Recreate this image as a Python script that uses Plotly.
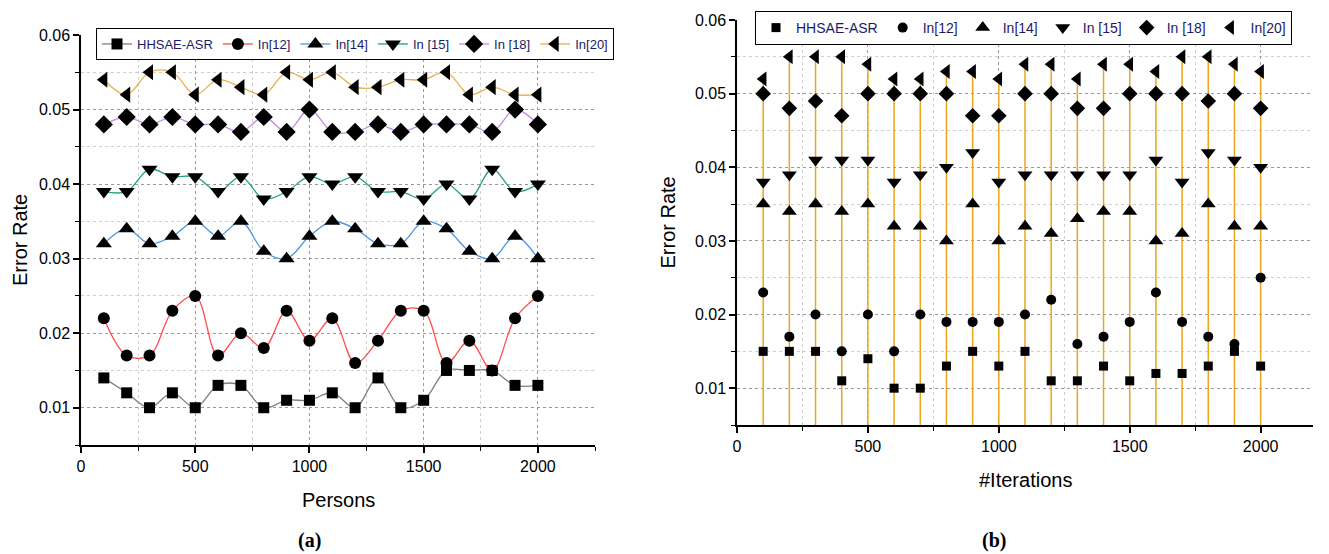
import plotly.graph_objects as go

# ---------------- data ----------------
x_vals = [100, 200, 300, 400, 500, 600, 700, 800, 900, 1000,
          1100, 1200, 1300, 1400, 1500, 1600, 1700, 1800, 1900, 2000]

series_names = ["HHSAE-ASR", "In[12]", "In[14]", "In [15]", "In [18]", "In[20]"]

# (a) Persons
a_hhsae = [0.014, 0.012, 0.010, 0.012, 0.010, 0.013, 0.013, 0.010, 0.011, 0.011,
           0.012, 0.010, 0.014, 0.010, 0.011, 0.015, 0.015, 0.015, 0.013, 0.013]
a_in12 = [0.022, 0.017, 0.017, 0.023, 0.025, 0.017, 0.020, 0.018, 0.023, 0.019,
          0.022, 0.016, 0.019, 0.023, 0.023, 0.016, 0.019, 0.015, 0.022, 0.025]
a_in14 = [0.032, 0.034, 0.032, 0.033, 0.035, 0.033, 0.035, 0.031, 0.030, 0.033,
          0.035, 0.034, 0.032, 0.032, 0.035, 0.034, 0.031, 0.030, 0.033, 0.030]
a_in15 = [0.039, 0.039, 0.042, 0.041, 0.041, 0.039, 0.041, 0.038, 0.039, 0.041,
          0.040, 0.041, 0.039, 0.039, 0.038, 0.040, 0.038, 0.042, 0.039, 0.040]
a_in18 = [0.048, 0.049, 0.048, 0.049, 0.048, 0.048, 0.047, 0.049, 0.047, 0.050,
          0.047, 0.047, 0.048, 0.047, 0.048, 0.048, 0.048, 0.047, 0.050, 0.048]
a_in20 = [0.054, 0.052, 0.055, 0.055, 0.052, 0.054, 0.053, 0.052, 0.055, 0.054,
          0.055, 0.053, 0.053, 0.054, 0.054, 0.055, 0.052, 0.053, 0.052, 0.052]

# (b) #Iterations
b_hhsae = [0.015, 0.015, 0.015, 0.011, 0.014, 0.010, 0.010, 0.013, 0.015, 0.013,
           0.015, 0.011, 0.011, 0.013, 0.011, 0.012, 0.012, 0.013, 0.015, 0.013]
b_in12 = [0.023, 0.017, 0.020, 0.015, 0.020, 0.015, 0.020, 0.019, 0.019, 0.019,
          0.020, 0.022, 0.016, 0.017, 0.019, 0.023, 0.019, 0.017, 0.016, 0.025]
b_in14 = [0.035, 0.034, 0.035, 0.034, 0.035, 0.032, 0.032, 0.030, 0.035, 0.030,
          0.032, 0.031, 0.033, 0.034, 0.034, 0.030, 0.031, 0.035, 0.032, 0.032]
b_in15 = [0.038, 0.039, 0.041, 0.041, 0.041, 0.038, 0.039, 0.040, 0.042, 0.038,
          0.039, 0.039, 0.039, 0.039, 0.039, 0.041, 0.038, 0.042, 0.041, 0.040]
b_in18 = [0.050, 0.048, 0.049, 0.047, 0.050, 0.050, 0.050, 0.050, 0.047, 0.047,
          0.050, 0.050, 0.048, 0.048, 0.050, 0.050, 0.050, 0.049, 0.050, 0.048]
b_in20 = [0.052, 0.055, 0.055, 0.055, 0.054, 0.052, 0.052, 0.053, 0.053, 0.052,
          0.054, 0.054, 0.052, 0.054, 0.054, 0.053, 0.055, 0.055, 0.054, 0.053]

y_tick_vals = [0.01, 0.02, 0.03, 0.04, 0.05, 0.06]
x_tick_vals = [0, 500, 1000, 1500, 2000]

# ---------------- styling ----------------
W, H = 1329, 554
FONT = "Liberation Sans, Arial, sans-serif"
LEG_COLOR = "#1b1b66"
line_colors = ["#7f7f7f", "#ff4d4d", "#4a95e6", "#1fa673", "#c38be6", "#e6b04a"]
symbols = ["square", "circle", "triangle-up", "triangle-down", "diamond", "triangle-left"]
a_sizes = [11, 12, 14, 14, 14, 14]
b_sizes = [9, 10, 13, 13, 12, 13]
STEM_COLOR = "#eba51c"

a_data = [a_hhsae, a_in12, a_in14, a_in15, a_in18, a_in20]
b_data = [b_hhsae, b_in12, b_in14, b_in15, b_in18, b_in20]

fig = go.Figure()

# (a) spline lines with markers
for name, ys, col, sym, sz in zip(series_names, a_data, line_colors, symbols, a_sizes):
    fig.add_trace(go.Scatter(
        x=x_vals, y=ys, name=name, mode="lines+markers",
        line=dict(color=col, width=1.3, shape="spline", smoothing=1.0),
        marker=dict(symbol=sym, size=sz, color="black"),
        xaxis="x", yaxis="y", legend="legend",
    ))

# (b) drop lines from the axis floor to In[20]
Y_FLOOR = 0.005
stem_x, stem_y = [], []
for xv, yv in zip(x_vals, b_in20):
    stem_x += [xv, xv, None]
    stem_y += [Y_FLOOR, yv, None]
fig.add_trace(go.Scatter(
    x=stem_x, y=stem_y, mode="lines", showlegend=False, hoverinfo="skip",
    line=dict(color=STEM_COLOR, width=1.5), xaxis="x2", yaxis="y2",
))

for name, ys, sym, sz in zip(series_names, b_data, symbols, b_sizes):
    fig.add_trace(go.Scatter(
        x=x_vals, y=ys, name=name, mode="markers",
        marker=dict(symbol=sym, size=sz, color="black"),
        xaxis="x2", yaxis="y2", legend="legend2",
    ))


def xaxis_style(domain, rng, anchor):
    return dict(
        domain=domain, range=rng, anchor=anchor, automargin=False,
        tickvals=x_tick_vals, showline=True, linecolor="black", linewidth=1.5,
        ticks="outside", ticklen=6, tickwidth=1.5, tickcolor="black",
        showgrid=True, gridcolor="#9a9a9a", griddash="dot", gridwidth=1,
        zeroline=False, mirror=False,
        tickfont=dict(family=FONT, size=16, color="black"),
        minor=dict(dtick=250, tick0=0, ticks="outside", ticklen=4, tickwidth=1.2,
                   tickcolor="black", showgrid=True, gridcolor="#cfcfcf",
                   griddash="dot", gridwidth=1),
    )


def yaxis_style(domain, anchor):
    return dict(
        domain=domain, range=[0.005, 0.06], anchor=anchor, automargin=False,
        tickvals=y_tick_vals, tickformat=".2f",
        showline=True, linecolor="black", linewidth=1.5,
        ticks="outside", ticklen=6, tickwidth=1.5, tickcolor="black",
        showgrid=True, gridcolor="#9a9a9a", griddash="dot", gridwidth=1,
        zeroline=False, mirror=False,
        tickfont=dict(family=FONT, size=16, color="black"),
        minor=dict(dtick=0.005, tick0=0, ticks="outside", ticklen=4, tickwidth=1.2,
                   tickcolor="black", showgrid=True, gridcolor="#cfcfcf",
                   griddash="dot", gridwidth=1),
    )


# pixel geometry
a_l, a_r, a_t, a_b = 81, 595, 35, 445
b_l, b_r, b_t, b_b = 737, 1313, 20, 425

fig.update_layout(
    width=W, height=H,
    margin=dict(l=0, r=0, t=0, b=0, autoexpand=False),
    paper_bgcolor="white", plot_bgcolor="white",
    font=dict(family=FONT, color="black"),
    xaxis=xaxis_style([a_l / W, a_r / W], [0, 2250], "y"),
    yaxis=yaxis_style([1 - a_b / H, 1 - a_t / H], "x"),
    xaxis2=xaxis_style([b_l / W, b_r / W], [0, 2200], "y2"),
    yaxis2=yaxis_style([1 - b_b / H, 1 - b_t / H], "x2"),
    legend=dict(
        orientation="h", x=96 / W, y=1 - 28 / H, xanchor="left", yanchor="top",
        bgcolor="white", bordercolor="black", borderwidth=1,
        font=dict(family=FONT, size=13, color=LEG_COLOR),
        itemwidth=30, tracegroupgap=0,
    ),
    legend2=dict(
        orientation="h", x=755 / W, y=1 - 11 / H, xanchor="left", yanchor="top",
        bgcolor="white", bordercolor="black", borderwidth=1,
        font=dict(family=FONT, size=14, color=LEG_COLOR),
        itemwidth=30, tracegroupgap=0,
    ),
    annotations=[
        dict(text="Error Rate", x=20 / W, y=1 - (a_t + a_b) / 2 / H, xref="paper", yref="paper",
             textangle=-90, showarrow=False, font=dict(family=FONT, size=20, color="black"),
             xanchor="center", yanchor="middle"),
        dict(text="Persons", x=(a_l + a_r) / 2 / W, y=1 - 500 / H, xref="paper", yref="paper",
             showarrow=False, font=dict(family=FONT, size=20, color="black"),
             xanchor="center", yanchor="middle"),
        dict(text="<b>(a)</b>", x=309 / W, y=1 - 540 / H, xref="paper", yref="paper",
             showarrow=False, font=dict(family="Liberation Serif, serif", size=20, color="black"),
             xanchor="center", yanchor="middle"),
        dict(text="Error Rate", x=668 / W, y=1 - (b_t + b_b) / 2 / H, xref="paper", yref="paper",
             textangle=-90, showarrow=False, font=dict(family=FONT, size=20, color="black"),
             xanchor="center", yanchor="middle"),
        dict(text="#Iterations", x=(b_l + b_r) / 2 / W, y=1 - 480 / H, xref="paper", yref="paper",
             showarrow=False, font=dict(family=FONT, size=20, color="black"),
             xanchor="center", yanchor="middle"),
        dict(text="<b>(b)</b>", x=994 / W, y=1 - 540 / H, xref="paper", yref="paper",
             showarrow=False, font=dict(family="Liberation Serif, serif", size=20, color="black"),
             xanchor="center", yanchor="middle"),
    ],
)

fig.write_html("out.html")
